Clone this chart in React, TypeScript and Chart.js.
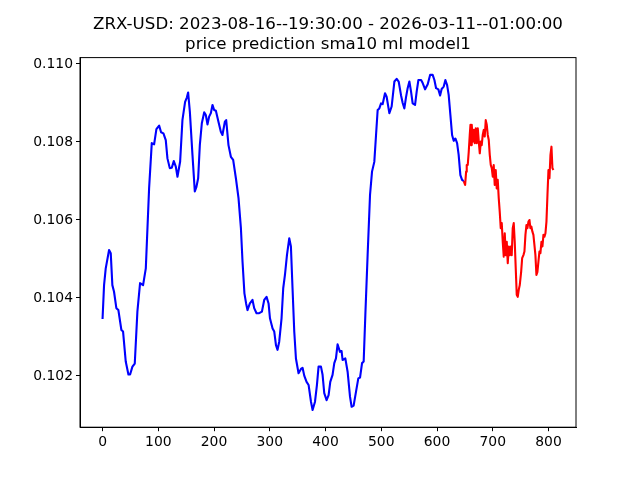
import React, { useEffect, useRef } from "react";
import { Chart, registerables } from "chart.js";

Chart.register(...registerables);

const titleLines = ["ZRX-USD: 2023-08-16--19:30:00 - 2026-03-11--01:00:00", "price prediction sma10 ml model1"];
const xTicks = [0, 100, 200, 300, 400, 500, 600, 700, 800];
const yTicks = [0.102, 0.104, 0.106, 0.108, 0.11];

const blueX = [0, 2.7, 5.7, 11.7, 14.7, 17.6, 20.6, 24.8, 28.4, 33.8, 36.8, 41.6, 46.4, 49.4, 53.6, 57.8, 62.5, 67.3, 72.7, 77.6, 83.5, 88.3, 92.5, 96.6, 101.5, 105, 109.2, 113.4, 116.4, 120.6, 124.2, 127.8, 131.4, 134.4, 139.2, 143.3, 148.1, 151.2, 153.5, 156.6, 161.3, 165.5, 168.4, 171.5, 174.5, 178.1, 182.3, 185.3, 188.2, 191.2, 194.3, 197.2, 200.2, 203.3, 207.9, 212.2, 215.1, 219.4, 221.8, 225.9, 230.2, 234.3, 239.2, 243.9, 248.2, 251.1, 254.5, 257.5, 260, 264.3, 269, 272, 276.2, 281, 285.9, 290, 294.2, 297.8, 300.3, 305, 308, 311.1, 313.9, 316.9, 321.1, 324.1, 327.2, 330.8, 334.9, 337.9, 340.8, 343.9, 346.9, 351.6, 355.9, 358.8, 361.8, 366, 369.6, 373.9, 376.8, 381.1, 384.6, 387.5, 391.8, 394.7, 397.7, 401.9, 405.5, 408.5, 412.6, 415.7, 418.7, 421.6, 425.9, 428.8, 430.6, 435.5, 439.6, 443.9, 446.8, 450.4, 454.7, 458.8, 461.9, 465.5, 468.4, 471.4, 475.5, 479.8, 483.4, 487.5, 490.6, 493.5, 496.5, 499.6, 502.4, 506.7, 509.6, 514.5, 518.6, 523.5, 527.6, 531.2, 535.4, 538.4, 541.4, 544.4, 547.3, 550.4, 553.4, 556.3, 560.6, 563.5, 566.6, 571.4, 574.3, 578.6, 583.3, 587.6, 592.2, 595.3, 598.3, 602.4, 605.5, 608.3, 612, 615, 618.1, 620.9, 624, 627, 629.9, 632.9, 636, 638.8, 641.9, 644.9, 647.8];
const blueY = [0.10346, 0.10433, 0.10476, 0.10523, 0.10515, 0.10433, 0.10416, 0.10374, 0.10369, 0.10318, 0.10314, 0.10237, 0.10204, 0.10204, 0.10224, 0.10232, 0.10365, 0.10438, 0.10433, 0.10476, 0.10681, 0.10797, 0.10794, 0.10833, 0.10842, 0.10825, 0.10822, 0.10805, 0.10758, 0.10733, 0.10734, 0.10751, 0.10737, 0.10711, 0.1075, 0.10856, 0.10903, 0.10914, 0.10927, 0.10878, 0.10767, 0.10673, 0.10685, 0.10707, 0.10792, 0.10848, 0.10876, 0.10869, 0.10845, 0.10865, 0.10874, 0.10895, 0.10882, 0.1088, 0.10852, 0.10826, 0.10818, 0.10852, 0.10856, 0.10792, 0.10762, 0.10754, 0.10707, 0.10656, 0.10579, 0.10493, 0.10412, 0.10386, 0.10369, 0.10386, 0.10395, 0.10374, 0.10361, 0.10361, 0.10365, 0.10395, 0.10403, 0.10386, 0.10348, 0.10322, 0.10314, 0.10279, 0.10267, 0.10288, 0.10348, 0.10425, 0.10459, 0.1051, 0.10553, 0.10532, 0.10425, 0.10314, 0.10245, 0.10207, 0.10218, 0.10221, 0.10201, 0.10185, 0.10177, 0.10134, 0.10113, 0.10134, 0.10177, 0.10224, 0.10224, 0.10203, 0.10156, 0.10138, 0.10151, 0.10185, 0.10203, 0.10233, 0.10245, 0.10281, 0.10262, 0.10264, 0.10241, 0.10245, 0.10211, 0.10147, 0.10121, 0.10124, 0.1016, 0.10194, 0.10196, 0.10233, 0.10237, 0.10356, 0.1051, 0.10664, 0.10724, 0.10749, 0.10818, 0.10882, 0.10886, 0.10899, 0.10897, 0.10925, 0.10916, 0.10874, 0.10891, 0.10955, 0.10962, 0.10955, 0.1092, 0.109, 0.10886, 0.10915, 0.10938, 0.10955, 0.10929, 0.10899, 0.10895, 0.10929, 0.10959, 0.10959, 0.10951, 0.10935, 0.10948, 0.10972, 0.10972, 0.10959, 0.10938, 0.10935, 0.10919, 0.10936, 0.10942, 0.10959, 0.10946, 0.10921, 0.10869, 0.10818, 0.10803, 0.10809, 0.10797, 0.10767, 0.10715, 0.10703, 0.107];

const redX = [647.8, 650.4, 652.2, 653.3, 655.1, 656.9, 658.7, 660, 661.2, 662.3, 664.1, 665.9, 667.7, 669.5, 671.3, 673.1, 674.9, 676.7, 678.5, 680.2, 682, 683.8, 685.6, 687.4, 689.2, 691, 692.8, 694.6, 696.4, 698.2, 700, 701.7, 703.5, 705.3, 707.1, 708.9, 710.7, 712.5, 714.3, 716.1, 717.9, 719.7, 721.5, 723.3, 725.1, 726.9, 728.7, 730.5, 732.2, 734, 735.8, 737.6, 739.4, 741.2, 743, 744.8, 746.6, 748.4, 750.9, 752.7, 755, 756.8, 758.6, 760.4, 762.2, 764, 765.8, 767.5, 769.3, 771.1, 772.9, 774.7, 776.5, 778.3, 780.1, 781.9, 783.7, 785.5, 787.3, 789.1, 790.9, 792.7, 794.5, 796.3, 798.1, 799.9, 801.7, 803.5, 805.3, 807, 808.8];
const redY = [0.107, 0.1069, 0.10724, 0.10741, 0.10741, 0.10775, 0.10818, 0.10844, 0.10792, 0.10844, 0.10801, 0.10831, 0.10797, 0.10835, 0.10797, 0.10835, 0.10801, 0.10771, 0.10801, 0.10792, 0.10818, 0.10831, 0.10814, 0.10856, 0.10844, 0.10818, 0.10805, 0.10767, 0.10741, 0.10733, 0.10711, 0.10741, 0.1069, 0.10728, 0.10681, 0.10703, 0.10656, 0.10621, 0.10579, 0.10592, 0.10544, 0.10506, 0.10566, 0.1051, 0.10544, 0.10489, 0.10532, 0.1051, 0.10532, 0.1051, 0.10579, 0.10592, 0.10544, 0.10476, 0.10408, 0.10403, 0.10421, 0.10433, 0.10467, 0.10502, 0.1051, 0.10519, 0.10562, 0.10587, 0.10579, 0.10596, 0.106, 0.10579, 0.10583, 0.1057, 0.10562, 0.10536, 0.1051, 0.10459, 0.10467, 0.10493, 0.10519, 0.10515, 0.10544, 0.10532, 0.10562, 0.10557, 0.10566, 0.10596, 0.10664, 0.10728, 0.10707, 0.10767, 0.10788, 0.10733, 0.10728];

const FONT = "'DejaVu Sans', sans-serif";

const framePlugin = {
  id: "frameAndTitle",
  afterDraw(chart: any) {
    const { ctx, chartArea } = chart;
    ctx.save();
    ctx.strokeStyle = "#000";
    ctx.lineWidth = 1;
    ctx.strokeRect(chartArea.left, chartArea.top, chartArea.right - chartArea.left, chartArea.bottom - chartArea.top);
    ctx.fillStyle = "#000";
    ctx.font = `16.67px ${FONT}`;
    ctx.textAlign = "center";
    ctx.textBaseline = "alphabetic";
    const cx = (chartArea.left + chartArea.right) / 2;
    ctx.fillText(titleLines[0], cx, 28.5);
    ctx.fillText(titleLines[1], cx, 49);
    ctx.restore();
  },
};

export default function App() {
  const ref = useRef<HTMLCanvasElement | null>(null);
  useEffect(() => {
    document.body.style.margin = "0";
    const canvas = ref.current!;
    const toPts = (xs: number[], ys: number[]) => xs.map((x, i) => ({ x, y: ys[i] }));
    const chart = new Chart(canvas, {
      type: "line",
      data: {
        datasets: [
          { data: toPts(blueX, blueY), borderColor: "#0000ff", borderWidth: 2.1, pointRadius: 0, tension: 0, fill: false, borderJoinStyle: "round" },
          { data: toPts(redX, redY), borderColor: "#ff0000", borderWidth: 2.1, pointRadius: 0, tension: 0, fill: false, borderJoinStyle: "round" },
        ],
      },
      options: {
        responsive: false,
        animation: false,
        events: [],
        layout: { padding: { left: 0, right: 64, top: 57.6, bottom: 0 } },
        plugins: { legend: { display: false }, title: { display: false }, tooltip: { enabled: false } },
        scales: {
          x: {
            type: "linear",
            min: -40.45,
            max: 849.3,
            afterFit: (s: any) => { s.height = 52.8; },
            afterBuildTicks: (s: any) => { s.ticks = xTicks.map((v) => ({ value: v })); },
            grid: { drawOnChartArea: false, drawTicks: true, tickLength: 4, color: "#000", tickWidth: 1 },
            border: { display: true, color: "#000", width: 1 },
            ticks: { color: "#000", font: { family: FONT, size: 13.9 }, padding: 3, maxRotation: 0, autoSkip: false, callback: (v: any) => String(v) },
          },
          y: {
            type: "linear",
            min: 0.100687,
            max: 0.110164,
            afterFit: (s: any) => { s.width = 80; },
            afterBuildTicks: (s: any) => { s.ticks = yTicks.map((v) => ({ value: v })); },
            grid: { drawOnChartArea: false, drawTicks: true, tickLength: 4, color: "#000", tickWidth: 1 },
            border: { display: true, color: "#000", width: 1 },
            ticks: { color: "#000", font: { family: FONT, size: 13.9 }, padding: 3, autoSkip: false, callback: (v: any) => Number(v).toFixed(3) },
          },
        },
      },
      plugins: [framePlugin],
    });
    return () => chart.destroy();
  }, []);
  return (
    <div style={{ position: "fixed", left: 0, top: 0, width: 640, height: 480, background: "#fff" }}>
      <canvas ref={ref} width={640} height={480} />
    </div>
  );
}
